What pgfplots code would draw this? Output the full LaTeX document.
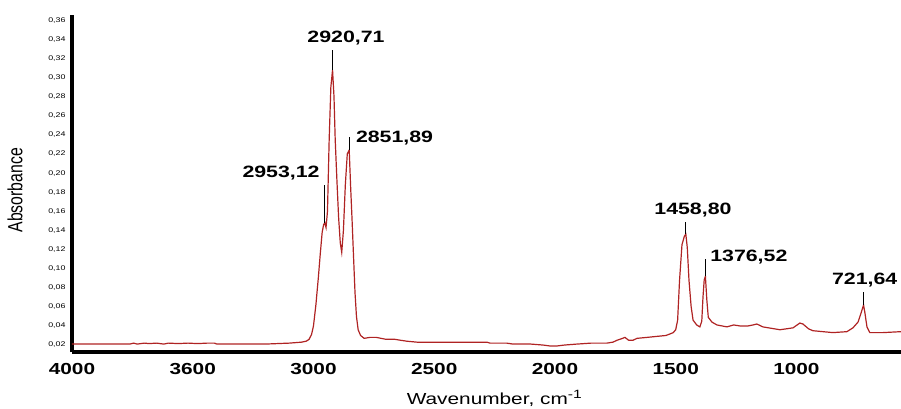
\documentclass[border=0pt]{standalone}
\usepackage{fontspec}
\setmainfont{Liberation Sans}
\newfontfamily\wide[FakeStretch=1.3]{Liberation Sans}
\usepackage{pgfplots}
\usepackage{pgfplotstable}
\pgfplotsset{compat=1.18}

\definecolor{spec}{RGB}{175,35,35}

% FTIR spectrum, wavenumber (cm-1) vs absorbance
\pgfplotstableread{
wn A
4000 0.021
3900 0.021
3760 0.021
3745 0.022
3730 0.021
3700 0.022
3680 0.0215
3650 0.022
3620 0.021
3600 0.022
3560 0.0215
3520 0.022
3480 0.0215
3440 0.022
3410 0.022
3400 0.021
3200 0.021
3100 0.022
3050 0.023
3030 0.024
3018 0.026
3008 0.031
3000 0.040
2990 0.062
2980 0.090
2972 0.115
2964 0.138
2958 0.146
2953 0.148
2948 0.143
2942 0.160
2935 0.235
2928 0.290
2921 0.308
2915 0.280
2910 0.235
2903 0.193
2896 0.154
2889 0.127
2883 0.117
2876 0.140
2868 0.188
2860 0.220
2852 0.224
2846 0.185
2840 0.150
2834 0.112
2828 0.075
2822 0.050
2815 0.036
2805 0.030
2790 0.027
2766 0.028
2740 0.028
2700 0.026
2663 0.026
2640 0.025
2613 0.024
2571 0.023
2500 0.023
2400 0.023
2300 0.023
2282 0.023
2269 0.022
2200 0.022
2174 0.021
2100 0.021
2050 0.020
2020 0.019
1992 0.019
1960 0.020
1909 0.021
1850 0.022
1814 0.022
1785 0.022
1760 0.023
1743 0.025
1720 0.027
1710 0.028
1695 0.025
1677 0.025
1660 0.027
1619 0.028
1580 0.029
1540 0.030
1510 0.033
1500 0.036
1492 0.046
1484 0.088
1474 0.125
1464 0.134
1458 0.136
1452 0.122
1445 0.088
1436 0.060
1428 0.046
1413 0.041
1400 0.039
1392 0.045
1387 0.070
1382 0.088
1377 0.092
1371 0.067
1365 0.049
1350 0.044
1329 0.041
1288 0.039
1260 0.041
1234 0.040
1200 0.040
1180 0.041
1164 0.042
1139 0.039
1068 0.036
1014 0.038
986 0.043
973 0.042
950 0.037
932 0.035
849 0.033
791 0.034
766 0.038
745 0.044
733 0.053
722 0.062
716 0.053
708 0.039
696 0.033
642 0.033
567 0.034
}\spectrum

\begin{document}
\begin{tikzpicture}
\path[use as bounding box, clip] (0,0) rectangle (450.5pt,204pt);
\begin{axis}[
  at={(36pt,28pt)}, anchor=south west,
  scale only axis, width=414.5pt, height=168.5pt,
  xmin=567, xmax=4000, x dir=reverse,
  ymin=0.0127, ymax=0.3655,
  clip=false,
  axis x line*=bottom, axis y line*=left,
  axis line style={line width=2pt},
  major tick length=0pt,
  xtick={4000,3500,3000,2500,2000,1500,1000},
  xticklabels={4000,3600,3000,2500,2000,1500,1000},
  xticklabel style={font=\wide\bfseries\fontsize{8}{9}\selectfont, yshift=-2pt},
  ytick={0.02,0.04,0.06,0.08,0.10,0.12,0.14,0.16,0.18,0.20,0.22,0.24,0.26,0.28,0.30,0.32,0.34,0.36},
  scaled y ticks=false,
  yticklabel style={font=\wide\fontsize{3.4}{4}\selectfont, xshift=0.3pt,
    /pgf/number format/use comma, /pgf/number format/fixed,
    /pgf/number format/fixed zerofill, /pgf/number format/precision=2,
    /pgf/number format/assume math mode=true},
  xlabel={Wavenumber, cm\textsuperscript{-1}},
  xlabel style={font=\wide\fontsize{8}{9}\selectfont, at={(axis description cs:0.51,0)}, anchor=base, yshift=-26pt},
  ylabel={\scalebox{1}[1.3]{Absorbance}},
  ylabel style={font=\fontsize{7.9}{9}\selectfont, at={(axis description cs:-0.0688,0.48)}, anchor=center},
]
\addplot[spec, line width=0.6pt, no markers] table[x=wn, y=A] {\spectrum};

\addplot[black, line width=0.5pt] coordinates {(2953.12,0.148) (2953.12,0.188)};
\addplot[black, line width=0.5pt] coordinates {(2920.71,0.308) (2920.71,0.329)};
\addplot[black, line width=0.5pt] coordinates {(2851.89,0.224) (2851.89,0.238)};
\addplot[black, line width=0.5pt] coordinates {(1458.80,0.136) (1458.80,0.149)};
\addplot[black, line width=0.5pt] coordinates {(1376.52,0.092) (1376.52,0.110)};
\addplot[black, line width=0.5pt] coordinates {(721.64,0.062) (721.64,0.075)};

\tikzset{pk/.style={font=\wide\bfseries\fontsize{8.2}{9}\selectfont, inner sep=0pt}}
\node[pk, anchor=base east, xshift=-2.4pt, yshift=3.3pt] at (axis cs:2953.12,0.188) {2953,12};
\node[pk, anchor=base, xshift=6.7pt, yshift=3.5pt] at (axis cs:2920.71,0.329) {2920,71};
\node[pk, anchor=base west, xshift=3.2pt, yshift=-3pt] at (axis cs:2851.89,0.238) {2851,89};
\node[pk, anchor=base, xshift=3.65pt, yshift=3.9pt] at (axis cs:1458.80,0.149) {1458,80};
\node[pk, anchor=base west, xshift=2.2pt, yshift=-1pt] at (axis cs:1376.52,0.110) {1376,52};
\node[pk, anchor=base west, xshift=-16pt, yshift=4.2pt] at (axis cs:721.64,0.075) {721,64};
\end{axis}
\end{tikzpicture}
\end{document}
